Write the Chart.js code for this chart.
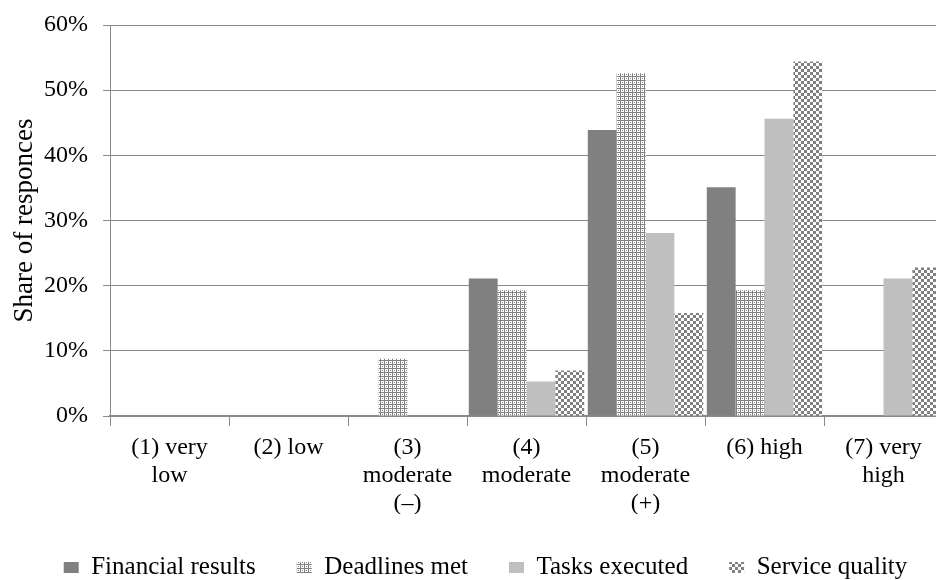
<!DOCTYPE html>
<html>
<head>
<meta charset="utf-8">
<script src="https://cdn.jsdelivr.net/npm/chart.js@4.4.1/dist/chart.umd.min.js"></script>
<style>
  html, body { margin: 0; padding: 0; background: #fff; overflow: hidden; }
  #wrap { width: 960px; height: 580px; }
</style>
</head>
<body>
<div id="wrap"><canvas id="chart" width="960" height="580"></canvas></div>
<script>
// data (share of responses, %)
const categories = [
    ['(1) very', 'low'],
    '(2) low',
    ['(3)', 'moderate', '(\u2013)'],
    ['(4)', 'moderate'],
    ['(5)', 'moderate', '(+)'],
    '(6) high',
    ['(7) very', 'high']
];
const financialResults = [0, 0, 0, 21.1, 43.9, 35.1, 0];
const deadlinesMet     = [0, 0, 8.8, 19.3, 52.6, 19.3, 0];
const tasksExecuted    = [0, 0, 0, 5.3, 28.1, 45.6, 21.1];
const serviceQuality   = [0, 0, 0, 7.0, 15.8, 54.4, 22.8];
const yTicks = [0, 10, 20, 30, 40, 50, 60];

const gray = '#808080';
const lineGray = '#8a8a8a';
const serif = "'Liberation Serif', 'Times New Roman', serif";

// small canvas tiles used as fill patterns
function makePattern(size, isDark) {
    let c = document.createElement('canvas');
    c.width = size;
    c.height = size;
    let g = c.getContext('2d');
    g.fillStyle = '#fff';
    g.fillRect(0, 0, size, size);
    g.fillStyle = gray;
    for (let y = 0; y < size; y++) {
        for (let x = 0; x < size; x++) {
            if (isDark(x, y)) g.fillRect(x, y, 1, 1);
        }
    }
    return g.createPattern(c, 'repeat');
}

let ctx = document.getElementById('chart').getContext('2d');

let finePattern = makePattern(4, (x, y) => x === 0 || y === 0 || (x === 2 && y === 2));
let checkPattern = makePattern(6, (x, y) => (Math.floor(x / 3) + Math.floor(y / 3)) % 2 === 0);

// move legend row to where it sits in the picture
const legendShift = {
    id: 'legendShift',
    afterLayout(chart) {
        chart.legend.left += 14;
        chart.legend.right += 14;
    }
};

new Chart(ctx, {
    type: 'bar',
    data: {
        labels: categories,
        datasets: [
            { label: 'Financial results', data: financialResults, backgroundColor: gray },
            { label: 'Deadlines met', data: deadlinesMet, backgroundColor: finePattern },
            { label: 'Tasks executed', data: tasksExecuted, backgroundColor: '#bfbfbf' },
            { label: 'Service quality', data: serviceQuality, backgroundColor: checkPattern }
        ]
    },
    options: {
        responsive: false,
        animation: false,
        datasets: {
            bar: { categoryPercentage: 0.97, barPercentage: 1.0, borderWidth: 0 }
        },
        layout: { padding: { top: 25, right: 17, bottom: 0, left: 0 } },
        plugins: {
            legend: {
                position: 'bottom',
                maxHeight: 66,
                labels: {
                    boxWidth: 15,
                    boxHeight: 11,
                    padding: 41,
                    color: '#000',
                    font: { family: serif, size: 25 }
                }
            },
            tooltip: { enabled: false }
        },
        scales: {
            x: {
                grid: { drawOnChartArea: false, drawTicks: true, tickLength: 10, color: lineGray, offset: true },
                border: { color: lineGray, width: 1.5 },
                ticks: {
                    color: '#000',
                    padding: 8,
                    maxRotation: 0,
                    autoSkip: false,
                    font: { family: serif, size: 24, lineHeight: 28 / 24 }
                },
                afterFit(scale) {
                    scale.height = 98;
                    scale.paddingLeft = 0;
                    scale.paddingRight = 0;
                }
            },
            y: {
                min: 0,
                max: 60,
                afterBuildTicks(scale) {
                    scale.ticks = yTicks.map(v => ({ value: v }));
                },
                ticks: {
                    color: '#000',
                    padding: 15,
                    font: { family: serif, size: 24 },
                    callback: v => v + '%'
                },
                grid: { color: lineGray, tickLength: 7, lineWidth: 1 },
                border: { color: lineGray },
                title: {
                    display: true,
                    text: 'Share of responces',
                    color: '#000',
                    font: { family: serif, size: 27 },
                    padding: { top: 9, bottom: 0 }
                },
                afterFit(scale) {
                    scale.width = 110;
                    scale.paddingTop = 0;
                    scale.paddingBottom = 0;
                }
            }
        }
    },
    plugins: [legendShift]
});
</script>
</body>
</html>
